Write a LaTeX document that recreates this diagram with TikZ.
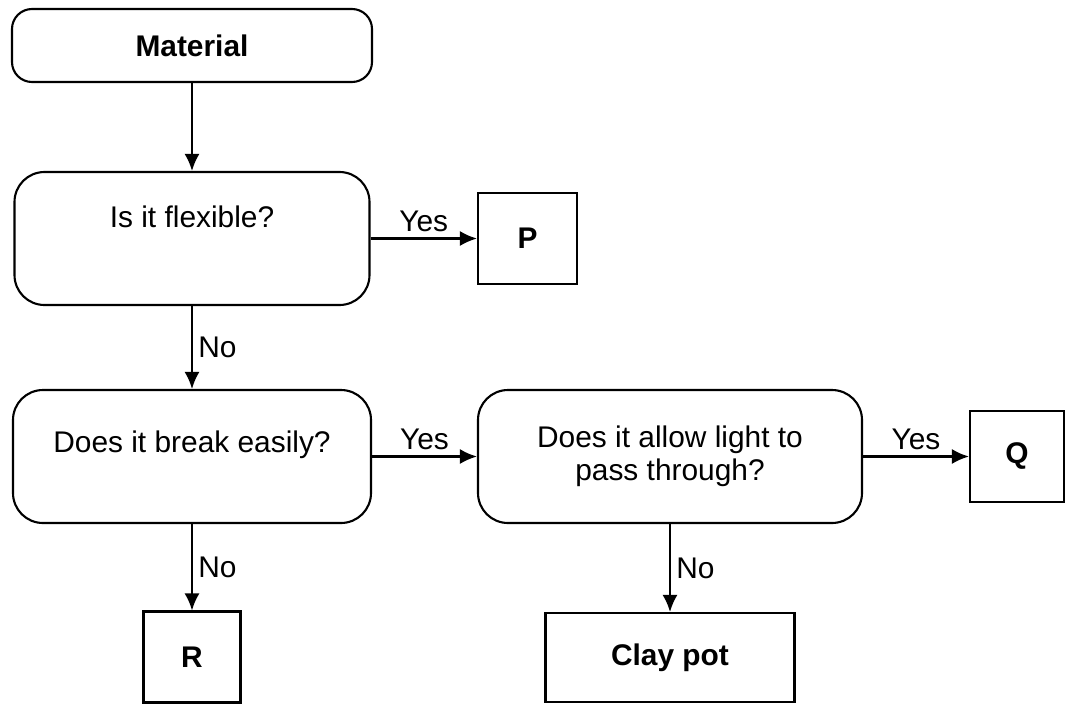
\documentclass[tikz,border=0pt]{standalone}
\usepackage{fontspec}
\setmainfont{Liberation Sans}
\usetikzlibrary{arrows.meta}

\begin{document}
\begin{tikzpicture}[
    font=\fontsize{17}{19}\selectfont,
    line width=1.2pt,
    >={Latex[length=3.4mm,width=3mm]},
    question/.style={draw, rounded corners=0.6cm, minimum width=#1, minimum height=2.66cm, align=center},
    answer/.style={draw, minimum width=1.94cm, minimum height=1.82cm, font=\fontsize{17}{19}\selectfont\bfseries}
  ]
    \useasboundingbox (-3.84,0.91) rectangle (17.64,-13.17);
    \node (M) [draw, rounded corners=0.4cm, minimum width=7.2cm, minimum height=1.46cm, font=\fontsize{17}{19}\selectfont\bfseries] {Material};
    \node (F) [question=7.1cm, node distance=3.86cm, below of=M, text height=0.5cm, text depth=0.96cm] {Is it flexible?};
    \node (P) [answer, minimum width=1.98cm, node distance=6.71cm, right of=F] {P};
    \node (B) [question=7.16cm, node distance=4.36cm, below of=F, text height=0.5cm, text depth=0.68cm] {Does it break easily?};
    \node (L) [question=7.68cm, node distance=9.56cm, right of=B] {Does it allow light to\\pass through?};
    \node (Q) [answer, minimum width=1.88cm, node distance=6.94cm, right of=L] {Q};
    \node (R) [answer, node distance=4.01cm, below of=B] {R};
    \node (C) [answer, minimum width=4.98cm, minimum height=1.78cm, node distance=4.02cm, below of=L] {Clay pot};
    \draw[->] (M) to (F);
    \draw[->] (F) to node [above] {Yes} (P);
    \draw[->] (F) to node [right, inner sep=3pt] {No} (B);
    \draw[->] (B) to node [above] {Yes} (L);
    \draw[->] (L) to node [above] {Yes} (Q);
    \draw[->] (B) to node [right, inner sep=3pt] {No} (R);
    \draw[->] (L) to node [right, inner sep=3pt] {No} (C);
\end{tikzpicture}
\end{document}
